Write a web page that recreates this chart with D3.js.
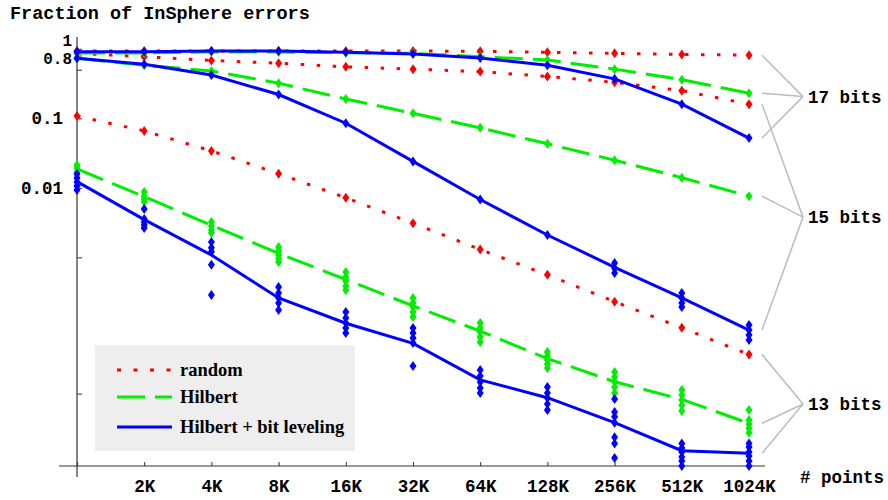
<!DOCTYPE html>
<html>
<head>
<meta charset="utf-8">
<script src="https://cdn.jsdelivr.net/npm/d3@7"></script>
<style>
  body { margin: 0; background: #fff; }
  svg { display: block; }
</style>
</head>
<body>
<svg width="888" height="500"></svg>
<script>
// point counts on the x axis (first one is not labelled)
const sizes = ["1K", "2K", "4K", "8K", "16K", "32K", "64K", "128K", "256K", "512K", "1024K"];
const sizeLabels = ["", "2K", "4K", "8K", "16K", "32K", "64K", "128K", "256K", "512K", "1024K"];

const yTickValues = [1, 0.8, 0.5, 0.1, 0.01, 0.001, 0.00001];
const yTickLabels = ["1", "0.8", "", "0.1", "0.01", "", ""];

const legendNames = ["random", "Hilbert", "Hilbert + bit leveling"];
const bitLabels = ["17 bits", "15 bits", "13 bits"];

// mean fraction of InSphere errors, per point count
const random17 = [0.93, 0.93, 0.93, 0.93, 0.93, 0.93, 0.92, 0.89, 0.86, 0.83, 0.81];
const hilbert17 = [0.87, 0.87, 0.90, 0.90, 0.88, 0.86, 0.77, 0.69, 0.51, 0.36, 0.23];
const leveled17 = [0.91, 0.91, 0.93, 0.93, 0.89, 0.84, 0.74, 0.58, 0.37, 0.16, 0.052];

const random15 = [0.86, 0.77, 0.68, 0.62, 0.55, 0.51, 0.47, 0.40, 0.33, 0.25, 0.16];
const hilbert15 = [0.73, 0.58, 0.48, 0.32, 0.19, 0.118, 0.073, 0.043, 0.025, 0.014, 0.0076];
const leveled15 = [0.73, 0.60, 0.42, 0.22, 0.085, 0.024, 0.0068, 0.0021, 0.00072, 0.00026, 0.000089];

const random13 = [0.108, 0.066, 0.034, 0.016, 0.0072, 0.0031, 0.0013, 0.00056, 0.00023, 0.000096, 0.000039];
const hilbert13 = [0.0187, 0.0075, 0.0029, 0.00114, 0.00048, 0.0002, 0.000086, 0.000034, 0.0000153, 0.0000081, 0.0000031];
const leveled13 = [0.0123, 0.0035, 0.00108, 0.00026, 0.000112, 0.000057, 0.0000163, 0.0000086, 0.0000032, 0.00000066, 0.00000052];

// individual runs where they spread out
const hilbert13Runs = [
  [0.0213, 0.0193, 0.0169],
  [0.0087, 0.0076, 0.0069, 0.0063],
  [0.00323, 0.00283, 0.00248, 0.00224],
  [0.00141, 0.00123, 0.00108, 0.00095, 0.00086],
  [0.000615, 0.000521, 0.000457, 0.000387, 0.000339],
  [0.00026, 0.00022, 0.000192, 0.000163, 0.000138],
  [0.000113, 0.0000955, 0.0000835, 0.0000706, 0.0000597],
  [0.0000426, 0.0000372, 0.0000324, 0.0000283, 0.0000247],
  [0.0000215, 0.0000181, 0.0000151, 0.0000127, 0.0000102],
  [0.0000114, 0.0000095, 0.0000079, 0.0000065, 0.0000052],
  [0.0000054, 0.0000036, 0.000003, 0.0000025, 0.000002]
];
const leveled13Runs = [
  [0.0158, 0.0139, 0.0121, 0.0106, 0.0093],
  [0.00496, 0.00356, 0.00323, 0.00292, 0.00265],
  [0.00166, 0.00137, 0.0012, 0.00078, 0.000287],
  [0.000374, 0.000306, 0.00026, 0.00022, 0.000174],
  [0.000163, 0.000133, 0.000113, 0.0000955, 0.0000808],
  [0.0000955, 0.0000808, 0.0000683, 0.0000577, 0.0000264],
  [0.000023, 0.0000187, 0.0000151, 0.0000122, 0.0000102],
  [0.0000127, 0.0000102, 0.0000085, 0.0000068, 0.0000054],
  [0.0000082, 0.000005, 0.0000041, 0.0000032, 0.0000016, 0.0000011, 0.0000003],
  [0.0000011, 0.00000082, 0.00000059, 0.00000035, 0.00000018, 0],
  [0.0000011, 0.00000088, 0.00000059, 0.00000039, 0.00000018, 0]
];
const leveled15Runs = [
  [0.73], [0.60], [0.42], [0.22], [0.085], [0.024], [0.0068], [0.0021],
  [0.00083, 0.0007, 0.000595],
  [0.000306, 0.00026, 0.00022, 0.000192],
  [0.000106, 0.0000893, 0.0000755, 0.0000639]
];

const styles = {
  random: { color: "#ff0000", dash: "3.5,12.5" },
  hilbert: { color: "#00ee00", dash: "28,10" },
  leveled: { color: "#0000ff", dash: null }
};

const series = [
  { kind: "random", bits: 0, values: random17 },
  { kind: "random", bits: 1, values: random15 },
  { kind: "random", bits: 2, values: random13 },
  { kind: "hilbert", bits: 0, values: hilbert17 },
  { kind: "hilbert", bits: 1, values: hilbert15 },
  { kind: "hilbert", bits: 2, values: hilbert13, runs: hilbert13Runs },
  { kind: "leveled", bits: 0, values: leveled17 },
  { kind: "leveled", bits: 1, values: leveled15, runs: leveled15Runs },
  { kind: "leveled", bits: 2, values: leveled13, runs: leveled13Runs }
];

const monoFont = "'Liberation Mono', 'Courier New', monospace";
const serifFont = "'Liberation Serif', 'Times New Roman', serif";

const svg = d3.select("svg");

const x = d3.scalePoint().domain(sizes).range([77, 749]);
// symlog so that runs with zero errors sit on the axis
const y = d3.scaleSymlog().constant(1e-6).domain([0, 1]).range([466, 48.8]);

// title
svg.append("text")
    .attr("x", 10)
    .attr("y", 18.5)
    .attr("font-family", monoFont)
    .attr("font-weight", "bold")
    .attr("font-size", 18.5)
    .text("Fraction of InSphere errors");

// axes
const axisColor = "#333";

let gy = svg.append("g")
    .attr("transform", "translate(77,0)")
    .call(d3.axisLeft(y)
        .tickValues(yTickValues)
        .tickFormat((d, i) => yTickLabels[i])
        .tickSizeInner(-5)
        .tickSizeOuter(0)
        .tickPadding(14));
gy.select(".domain").remove();
gy.selectAll(".tick line").attr("stroke", axisColor);
gy.selectAll(".tick text")
    .attr("fill", "#000")
    .attr("font-family", monoFont)
    .attr("font-weight", "bold")
    .attr("font-size", 17.5);
// the two top labels sit a bit further right and apart in the original
gy.selectAll(".tick text").filter(d => d >= 0.8).attr("x", -5).attr("font-size", 16);
gy.selectAll(".tick text").filter(d => d == 1).attr("dy", "-0.23em");
gy.selectAll(".tick text").filter(d => d == 0.8).attr("dy", "0.52em");

let gx = svg.append("g")
    .attr("transform", "translate(0,466)")
    .call(d3.axisBottom(x)
        .tickFormat((d, i) => sizeLabels[i])
        .tickSizeInner(-4)
        .tickSizeOuter(0)
        .tickPadding(13.5));
gx.select(".domain").remove();
gx.selectAll(".tick line").attr("stroke", axisColor);
gx.selectAll(".tick text")
    .attr("fill", "#000")
    .attr("font-family", monoFont)
    .attr("font-weight", "bold")
    .attr("font-size", 17.5);

svg.append("line")
    .attr("x1", 77).attr("x2", 77)
    .attr("y1", 37).attr("y2", 477)
    .attr("stroke", axisColor).attr("stroke-width", 1.2);
svg.append("line")
    .attr("x1", 59).attr("x2", 765)
    .attr("y1", 466).attr("y2", 466)
    .attr("stroke", axisColor).attr("stroke-width", 1.2);

svg.append("text")
    .attr("x", 800)
    .attr("y", 483)
    .attr("font-family", monoFont)
    .attr("font-weight", "bold")
    .attr("font-size", 17.5)
    .text("# points");

// legend box (drawn before data, data lines pass above it)
const legend = svg.append("g");
legend.append("rect")
    .attr("x", 95).attr("y", 345)
    .attr("width", 260).attr("height", 106)
    .attr("fill", "#eeeeee");

// data
const line = d3.line()
    .x((d, i) => x(sizes[i]))
    .y(d => y(d));
const diamond = "M0,-5L3.5,0L0,5L-3.5,0Z";

series.forEach(s => {
  let st = styles[s.kind];
  svg.append("path")
      .datum(s.values)
      .attr("d", line)
      .attr("fill", "none")
      .attr("stroke", st.color)
      .attr("stroke-width", 3)
      .attr("stroke-dasharray", st.dash);

  let pts = [];
  sizes.forEach((sz, i) => {
    let runs = s.runs ? s.runs[i] : [s.values[i]];
    runs.forEach(v => pts.push({ sz: sz, v: v }));
  });
  svg.append("g").selectAll("path")
      .data(pts)
      .join("path")
      .attr("d", diamond)
      .attr("transform", d => "translate(" + x(d.sz) + "," + y(d.v) + ")")
      .attr("fill", st.color);
});

// legend entries
["random", "hilbert", "leveled"].forEach((k, i) => {
  let ly = [370, 397, 427][i];
  legend.append("line")
      .attr("x1", 117).attr("x2", 172)
      .attr("y1", ly).attr("y2", ly)
      .attr("stroke", styles[k].color)
      .attr("stroke-width", 3)
      .attr("stroke-dasharray", k == "random" ? "4,12.5" : styles[k].dash);
  legend.append("text")
      .attr("x", 180)
      .attr("y", ly)
      .attr("dy", "0.33em")
      .attr("font-family", serifFont)
      .attr("font-weight", "bold")
      .attr("font-size", 18.5)
      .text(legendNames[i]);
});

// bit-count brackets on the right, meeting halfway between the extreme ends
const lastSize = sizes[sizes.length - 1];
bitLabels.forEach((label, b) => {
  let ends = series.filter(s => s.bits == b).map(s => y(s.values[s.values.length - 1]));
  let ay = (d3.min(ends) + d3.max(ends)) / 2;
  let ax = 803;
  ends.forEach(ey => {
    svg.append("line")
        .attr("x1", x(lastSize) + 13).attr("y1", ey)
        .attr("x2", ax).attr("y2", ay)
        .attr("stroke", "#bbbbbb")
        .attr("stroke-width", 1.5);
  });
  svg.append("text")
      .attr("x", ax + 5)
      .attr("y", ay)
      .attr("dy", "0.35em")
      .attr("font-family", monoFont)
      .attr("font-weight", "bold")
      .attr("font-size", 17.5)
      .text(label);
});
</script>
</body>
</html>
